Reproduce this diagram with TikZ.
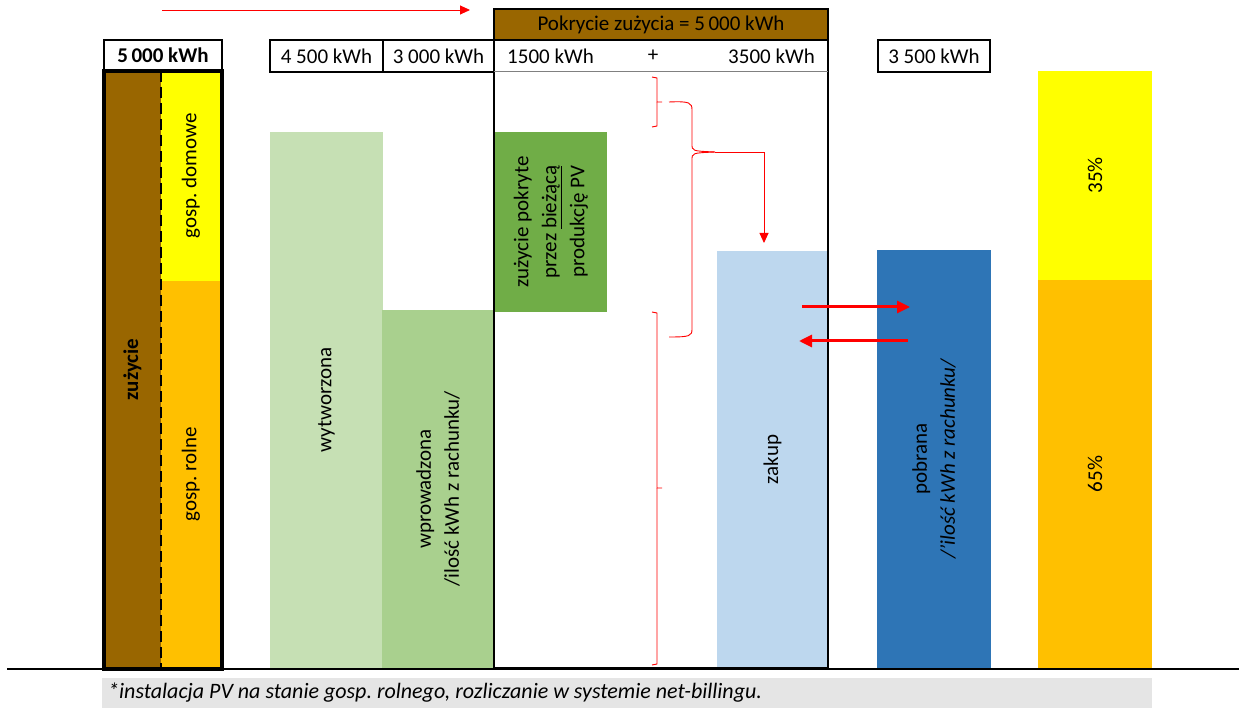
\documentclass[tikz,border=0pt]{standalone}
\usepackage{fontspec}
\setmainfont{Carlito}
\usetikzlibrary{arrows.meta}
\definecolor{cBrown}{HTML}{996600}
\definecolor{cYellow}{HTML}{FFFF00}
\definecolor{cOrange}{HTML}{FFC000}
\definecolor{cLgreen}{HTML}{C6E0B4}
\definecolor{cMgreen}{HTML}{A9D08E}
\definecolor{cGreen}{HTML}{70AD47}
\definecolor{cLblue}{HTML}{BDD7EE}
\definecolor{cBlue}{HTML}{2E75B6}
\definecolor{cGray}{HTML}{E5E5E5}
\frenchspacing
\begin{document}
\begin{tikzpicture}[x=1pt,y=-1pt,
  font=\fontsize{21}{28}\selectfont,
  blk/.style={inner sep=0pt, outer sep=0pt, anchor=north west},
  vtext/.style={rotate=90, align=center, inner sep=0pt},
  valbox/.style={blk, draw=black, line width=1.6pt},
  redarr/.style={draw=red, line width=0.9pt, -{Triangle[length=10pt,width=9pt]}},
  fatarr/.style={draw=red, line width=3pt, -{Triangle[length=13pt,width=12pt]}},
  bracepath/.style={draw=red, line width=0.9pt}]
\useasboundingbox (0,0) rectangle (1239,708);

% ---- left bar: zuzycie
\node[blk, fill=cBrown, minimum width=57pt, minimum height=597pt] (brown) at (104,71) {};
\node[blk, fill=cYellow, minimum width=60pt, minimum height=210pt] (domY) at (161,71) {};
\node[blk, fill=cOrange, minimum width=60pt, minimum height=387pt] (rolO) at (161,281) {};
\draw[line width=2.2pt, dash pattern=on 11pt off 5pt] (domY.north west) -- (rolO.south west);
\node[blk, draw=black, line width=4pt, minimum width=118pt, minimum height=598pt] (frameL) at (104,71) {};
\node[vtext, font=\fontsize{21}{28}\selectfont\bfseries] (tzuz) at (brown.center) {zużycie};
\node[vtext] (tdom) at (domY.center) {gosp. domowe};
\node[vtext] (trol) at (rolO.center) {gosp. rolne};
\node[valbox, minimum width=118pt, minimum height=30pt, font=\fontsize{21}{28}\selectfont\bfseries] (v5000) at (104,40) {5\,000 kWh};

% ---- PV bars
\node[blk, fill=cLgreen, minimum width=113pt, minimum height=536pt] (wyt) at (270,132) {};
\node[vtext] (twyt) at (wyt.center) {wytworzona};
\node[blk, fill=cMgreen, minimum width=112pt, minimum height=358pt] (wpr) at (382,310) {};
\node[vtext] (twpr) at (wpr.center) {wprowadzona\\/ilość kWh z rachunku/};
\node[valbox, minimum width=113pt, minimum height=32pt] (v4500) at (270,40) {4 500 kWh};
\node[valbox, minimum width=111pt, minimum height=32pt] (v3000) at (383,40) {3 000 kWh};

% ---- coverage frame
\node[blk, fill=cGreen, minimum width=112pt, minimum height=180pt] (pokr) at (495,132) {};
\node[vtext] (tpokr) at (pokr.center) {zużycie pokryte\\przez \underline{bieżącą}\\produkcję PV};
\node[blk, fill=cLblue, minimum width=111pt, minimum height=417pt] (zakup) at (717,251) {};
\node[vtext] (tzak) at (zakup.center) {zakup};
\node[blk, draw=black, line width=2pt, minimum width=334pt, minimum height=659pt] (frameM) at (494,9) {};
\node[blk, fill=cBrown, draw=black, line width=1.6pt, minimum width=334pt, minimum height=31pt] (head) at (494,9) {Pokrycie zużycia = 5\,000 kWh};
\node[anchor=west, inner sep=0pt] (v1500) at (507,56) {1500 kWh};
\node[inner sep=0pt] (plus) at (653,56) {+};
\node[anchor=east, inner sep=0pt] (v3500a) at (815,56) {3500 kWh};
\draw[gray, line width=1pt] (frameM.west |- 0,72) -- (frameM.east |- 0,72);

% ---- pobrana
\node[blk, fill=cBlue, minimum width=114pt, minimum height=418pt] (pob) at (877,250) {};
\node[vtext] (tpob) at (pob.center) {pobrana\\\itshape /'ilość kWh z rachunku/};
\node[valbox, minimum width=112pt, minimum height=32pt] (v3500) at (878,40) {3 500 kWh};

% ---- right percentage bar
\node[blk, fill=cYellow, minimum width=114pt, minimum height=209pt] (p35) at (1038,71) {};
\node[blk, fill=cOrange, minimum width=114pt, minimum height=388pt] (p65) at (1038,280) {};
\node[vtext] (t35) at (p35.center) {35\%};
\node[vtext] (t65) at (p65.center) {65\%};

% ---- baseline and footnote
\coordinate (baseL) at (7,669);
\coordinate (baseR) at (1239,669);
\draw[line width=2pt] (baseL) -- (baseR);
\node[blk, fill=cGray, minimum width=1050pt, minimum height=30pt] (foot) at (102,678) {};
\node[anchor=west, inner sep=0pt, font=\fontsize{22}{28}\selectfont\itshape] (tfoot) at (108,693) {*instalacja PV na stanie gosp. rolnego, rozliczanie w systemie net-billingu.};

% ---- red connectors
\coordinate (topA) at (162,10);
\coordinate (topB) at (470,10);
\draw[redarr] (topA) -- (topB);

\draw[bracepath] (652,77) -- (657,78) -- (657,102) -- (662,102);
\draw[bracepath] (657,102) -- (657,126) -- (652,127);

\draw[bracepath] (669,102) .. controls (690,101) and (692,103) .. (692,110) -- (692,144)
  .. controls (692,151) .. (715,152);
\draw[bracepath] (715,152) .. controls (692,153) .. (692,160) -- (692,329)
  .. controls (692,336) and (690,337) .. (669,337);

\draw[bracepath] (652,312) -- (657,313) -- (657,488) -- (662,488);
\draw[bracepath] (657,488) -- (657,664) -- (652,665);

\coordinate (brtip) at (715,152);
\coordinate (brdown) at (764,243);
\draw[redarr] (brtip) -- (brtip -| brdown) -- (brdown);

\coordinate (zr) at (802,307);
\coordinate (pr) at (910,307);
\coordinate (pl) at (908,341);
\coordinate (zl) at (799,341);
\draw[fatarr] (zr) -- (pr);
\draw[fatarr] (pl) -- (zl);
\end{tikzpicture}
\end{document}
